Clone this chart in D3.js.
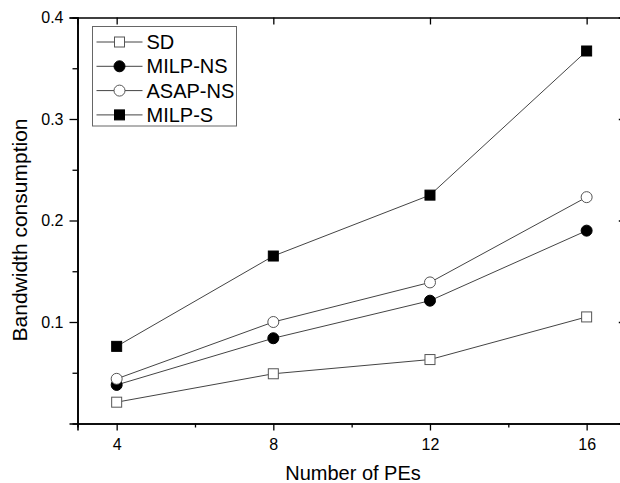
<!DOCTYPE html>
<html>
<head>
<meta charset="utf-8">
<script src="https://cdnjs.cloudflare.com/ajax/libs/d3/7.8.5/d3.min.js"></script>
<style>
  body { margin: 0; background: #fff; }
  text { font-family: Arial, "Liberation Sans", sans-serif; fill: #000; }
</style>
</head>
<body>
<script>
var pes = [4, 8, 12, 16];
var sd = [0.021, 0.049, 0.063, 0.105];
var milpNS = [0.038, 0.084, 0.121, 0.190];
var asapNS = [0.044, 0.100, 0.139, 0.223];
var milpS = [0.076, 0.165, 0.225, 0.367];
var yTicks = [0.1, 0.2, 0.3, 0.4];
var yMinor = [0.05, 0.15, 0.25, 0.35];
var xMinor = [6, 10, 14];

var series = [
  { name: "SD", values: sd, shape: "square", filled: false },
  { name: "MILP-NS", values: milpNS, shape: "circle", filled: true },
  { name: "ASAP-NS", values: asapNS, shape: "circle", filled: false },
  { name: "MILP-S", values: milpS, shape: "square", filled: true }
];

var width = 620, height = 483;

var x = d3.scaleLinear().domain([3, 17]).range([77.5, 625.8]);
var y = d3.scaleLinear().domain([0, 0.4]).range([423.5, 17.5]);

var svg = d3.select("body").append("svg")
  .attr("width", width)
  .attr("height", height);

// lines
var line = d3.line()
  .x(function (d, i) { return x(pes[i]); })
  .y(function (d) { return y(d); });

svg.selectAll(".series-line")
  .data(series)
  .enter().append("path")
  .attr("class", "series-line")
  .attr("d", function (d) { return line(d.values); })
  .attr("fill", "none")
  .attr("stroke", "#444")
  .attr("stroke-width", 1);

function drawMarker(g, s, cx, cy) {
  var fill = s.filled ? "#000" : "#fff";
  var stroke = s.filled ? "#000" : "#555";
  if (s.shape === "square") {
    g.append("rect")
      .attr("x", cx - 5).attr("y", cy - 5)
      .attr("width", 10).attr("height", 10)
      .attr("fill", fill).attr("stroke", stroke).attr("stroke-width", 1);
  } else {
    g.append("circle")
      .attr("cx", cx).attr("cy", cy).attr("r", 5.5)
      .attr("fill", fill).attr("stroke", stroke).attr("stroke-width", 1);
  }
}

series.forEach(function (s) {
  var g = svg.append("g");
  s.values.forEach(function (v, i) {
    drawMarker(g, s, x(pes[i]), y(v));
  });
});

// axes
var bottom = svg.append("g")
  .attr("transform", "translate(0," + y(0) + ")")
  .call(d3.axisBottom(x).tickValues(pes).tickSize(7).tickPadding(8));
bottom.append("g").call(d3.axisBottom(x).tickValues(xMinor).tickSize(4).tickFormat(""));

var left = svg.append("g")
  .attr("transform", "translate(" + x(3) + ",0)")
  .call(d3.axisLeft(y).tickValues(yTicks).tickSize(8).tickPadding(6).tickFormat(d3.format(".1f")));
left.append("g").call(d3.axisLeft(y).tickValues(yMinor).tickSize(5).tickFormat(""));

svg.append("g")
  .attr("transform", "translate(0," + y(0.4) + ")")
  .call(d3.axisBottom(x).tickValues(pes).tickSize(7).tickFormat(""));

svg.append("g")
  .attr("transform", "translate(" + x(17) + ",0)")
  .call(d3.axisLeft(y).tickValues(yTicks).tickSize(7).tickFormat(""));

svg.selectAll(".domain").attr("stroke", "#000").attr("stroke-width", 1.6);
svg.selectAll(".tick line").attr("stroke", "#000").attr("stroke-width", 1.3);
svg.selectAll(".tick text")
  .style("font-family", "Arial, 'Liberation Sans', sans-serif")
  .style("font-size", "16px")
  .attr("fill", "#000");

// titles
svg.append("text")
  .attr("x", 353)
  .attr("y", 480)
  .attr("text-anchor", "middle")
  .style("font-size", "20px")
  .text("Number of PEs");

svg.append("text")
  .attr("transform", "translate(27,230) rotate(-90)")
  .attr("text-anchor", "middle")
  .style("font-size", "21px")
  .text("Bandwidth consumption");

// legend
var legend = svg.append("g").attr("transform", "translate(92.5,26.5)");
legend.append("rect")
  .attr("width", 144).attr("height", 99.5)
  .attr("fill", "#fff").attr("stroke", "#666").attr("stroke-width", 1);

series.forEach(function (s, i) {
  var ly = 15.5 + i * 24.3;
  legend.append("line")
    .attr("x1", 4).attr("x2", 50).attr("y1", ly).attr("y2", ly)
    .attr("stroke", "#444").attr("stroke-width", 1);
  drawMarker(legend, s, 27, ly);
  legend.append("text")
    .attr("x", 54).attr("y", ly + 7)
    .style("font-size", "20px")
    .text(s.name);
});
</script>
</body>
</html>
